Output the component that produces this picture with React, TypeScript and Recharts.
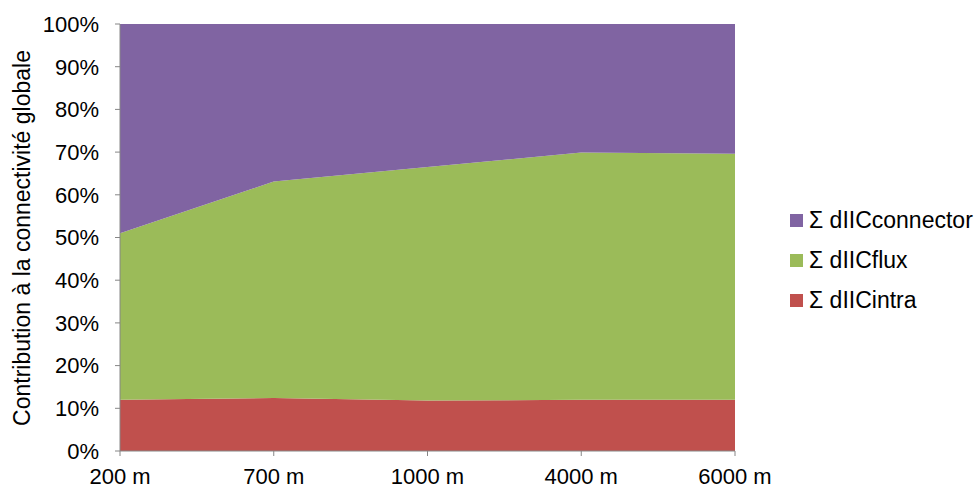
import React from "react";
import { AreaChart, Area, XAxis, YAxis } from "recharts";

const categories = ["200 m", "700 m", "1000 m", "4000 m", "6000 m"];
const intra = [12.0, 12.4, 11.8, 12.0, 12.0];
const flux = [39.0, 50.7, 54.7, 57.9, 57.6];
const connector = [49.0, 36.9, 33.5, 30.1, 30.4];
const yTicks = [0, 10, 20, 30, 40, 50, 60, 70, 80, 90, 100];

const seriesInfo = [
  { key: "connector", name: "Σ dIICconnector", color: "#8064A2" },
  { key: "flux", name: "Σ dIICflux", color: "#9BBB59" },
  { key: "intra", name: "Σ dIICintra", color: "#C0504D" },
];

const data = categories.map((c, i) => ({
  cat: c,
  intra: intra[i],
  flux: flux[i],
  connector: connector[i],
}));

const FONT = "'Liberation Sans', Arial, sans-serif";

const LegendBox = () => (
  <div
    style={{
      position: "absolute",
      left: 790,
      top: 200,
      fontFamily: FONT,
      fontSize: 23,
      color: "#000",
    }}
  >
    {seriesInfo.map((s) => (
      <div
        key={s.key}
        style={{ display: "flex", alignItems: "center", height: 40, whiteSpace: "nowrap" }}
      >
        <span
          style={{
            display: "inline-block",
            width: 13,
            height: 13,
            background: s.color,
            marginRight: 6,
          }}
        />
        <span>{s.name}</span>
      </div>
    ))}
  </div>
);

export default function App() {
  return (
    <div style={{ position: "absolute", left: 0, top: 0, width: 979, height: 488, background: "#fff" }}>
      <AreaChart
        width={979}
        height={488}
        data={data}
        margin={{ top: 24, right: 244, bottom: 0, left: 0 }}
      >
        <XAxis
          dataKey="cat"
          height={37}
          tickSize={5}
          tickMargin={12}
          stroke="#868686"
          tick={{ fill: "#000", fontSize: 22, fontFamily: FONT }}
          interval={0}
        />
        <YAxis
          width={120}
          domain={[0, 100]}
          ticks={yTicks}
          interval={0}
          tickFormatter={(v: number) => `${v}%`}
          tickSize={5}
          tickMargin={16}
          stroke="#868686"
          tick={{ fill: "#000", fontSize: 22, fontFamily: FONT }}
          allowDataOverflow
          label={{
            content: () => (
              <text
                x={22}
                y={238}
                transform="rotate(-90 22 238)"
                textAnchor="middle"
                dominantBaseline="central"
                fontSize={23}
                fontFamily={FONT}
                fill="#000"
              >
                Contribution à la connectivité globale
              </text>
            ),
          }}
        />
        <Area
          type="linear"
          dataKey="intra"
          name="Σ dIICintra"
          stackId="1"
          fill="#C0504D"
          stroke="none"
          fillOpacity={1}
          isAnimationActive={false}
        />
        <Area
          type="linear"
          dataKey="flux"
          name="Σ dIICflux"
          stackId="1"
          fill="#9BBB59"
          stroke="none"
          fillOpacity={1}
          isAnimationActive={false}
        />
        <Area
          type="linear"
          dataKey="connector"
          name="Σ dIICconnector"
          stackId="1"
          fill="#8064A2"
          stroke="none"
          fillOpacity={1}
          isAnimationActive={false}
        />
      </AreaChart>
      <LegendBox />
    </div>
  );
}
